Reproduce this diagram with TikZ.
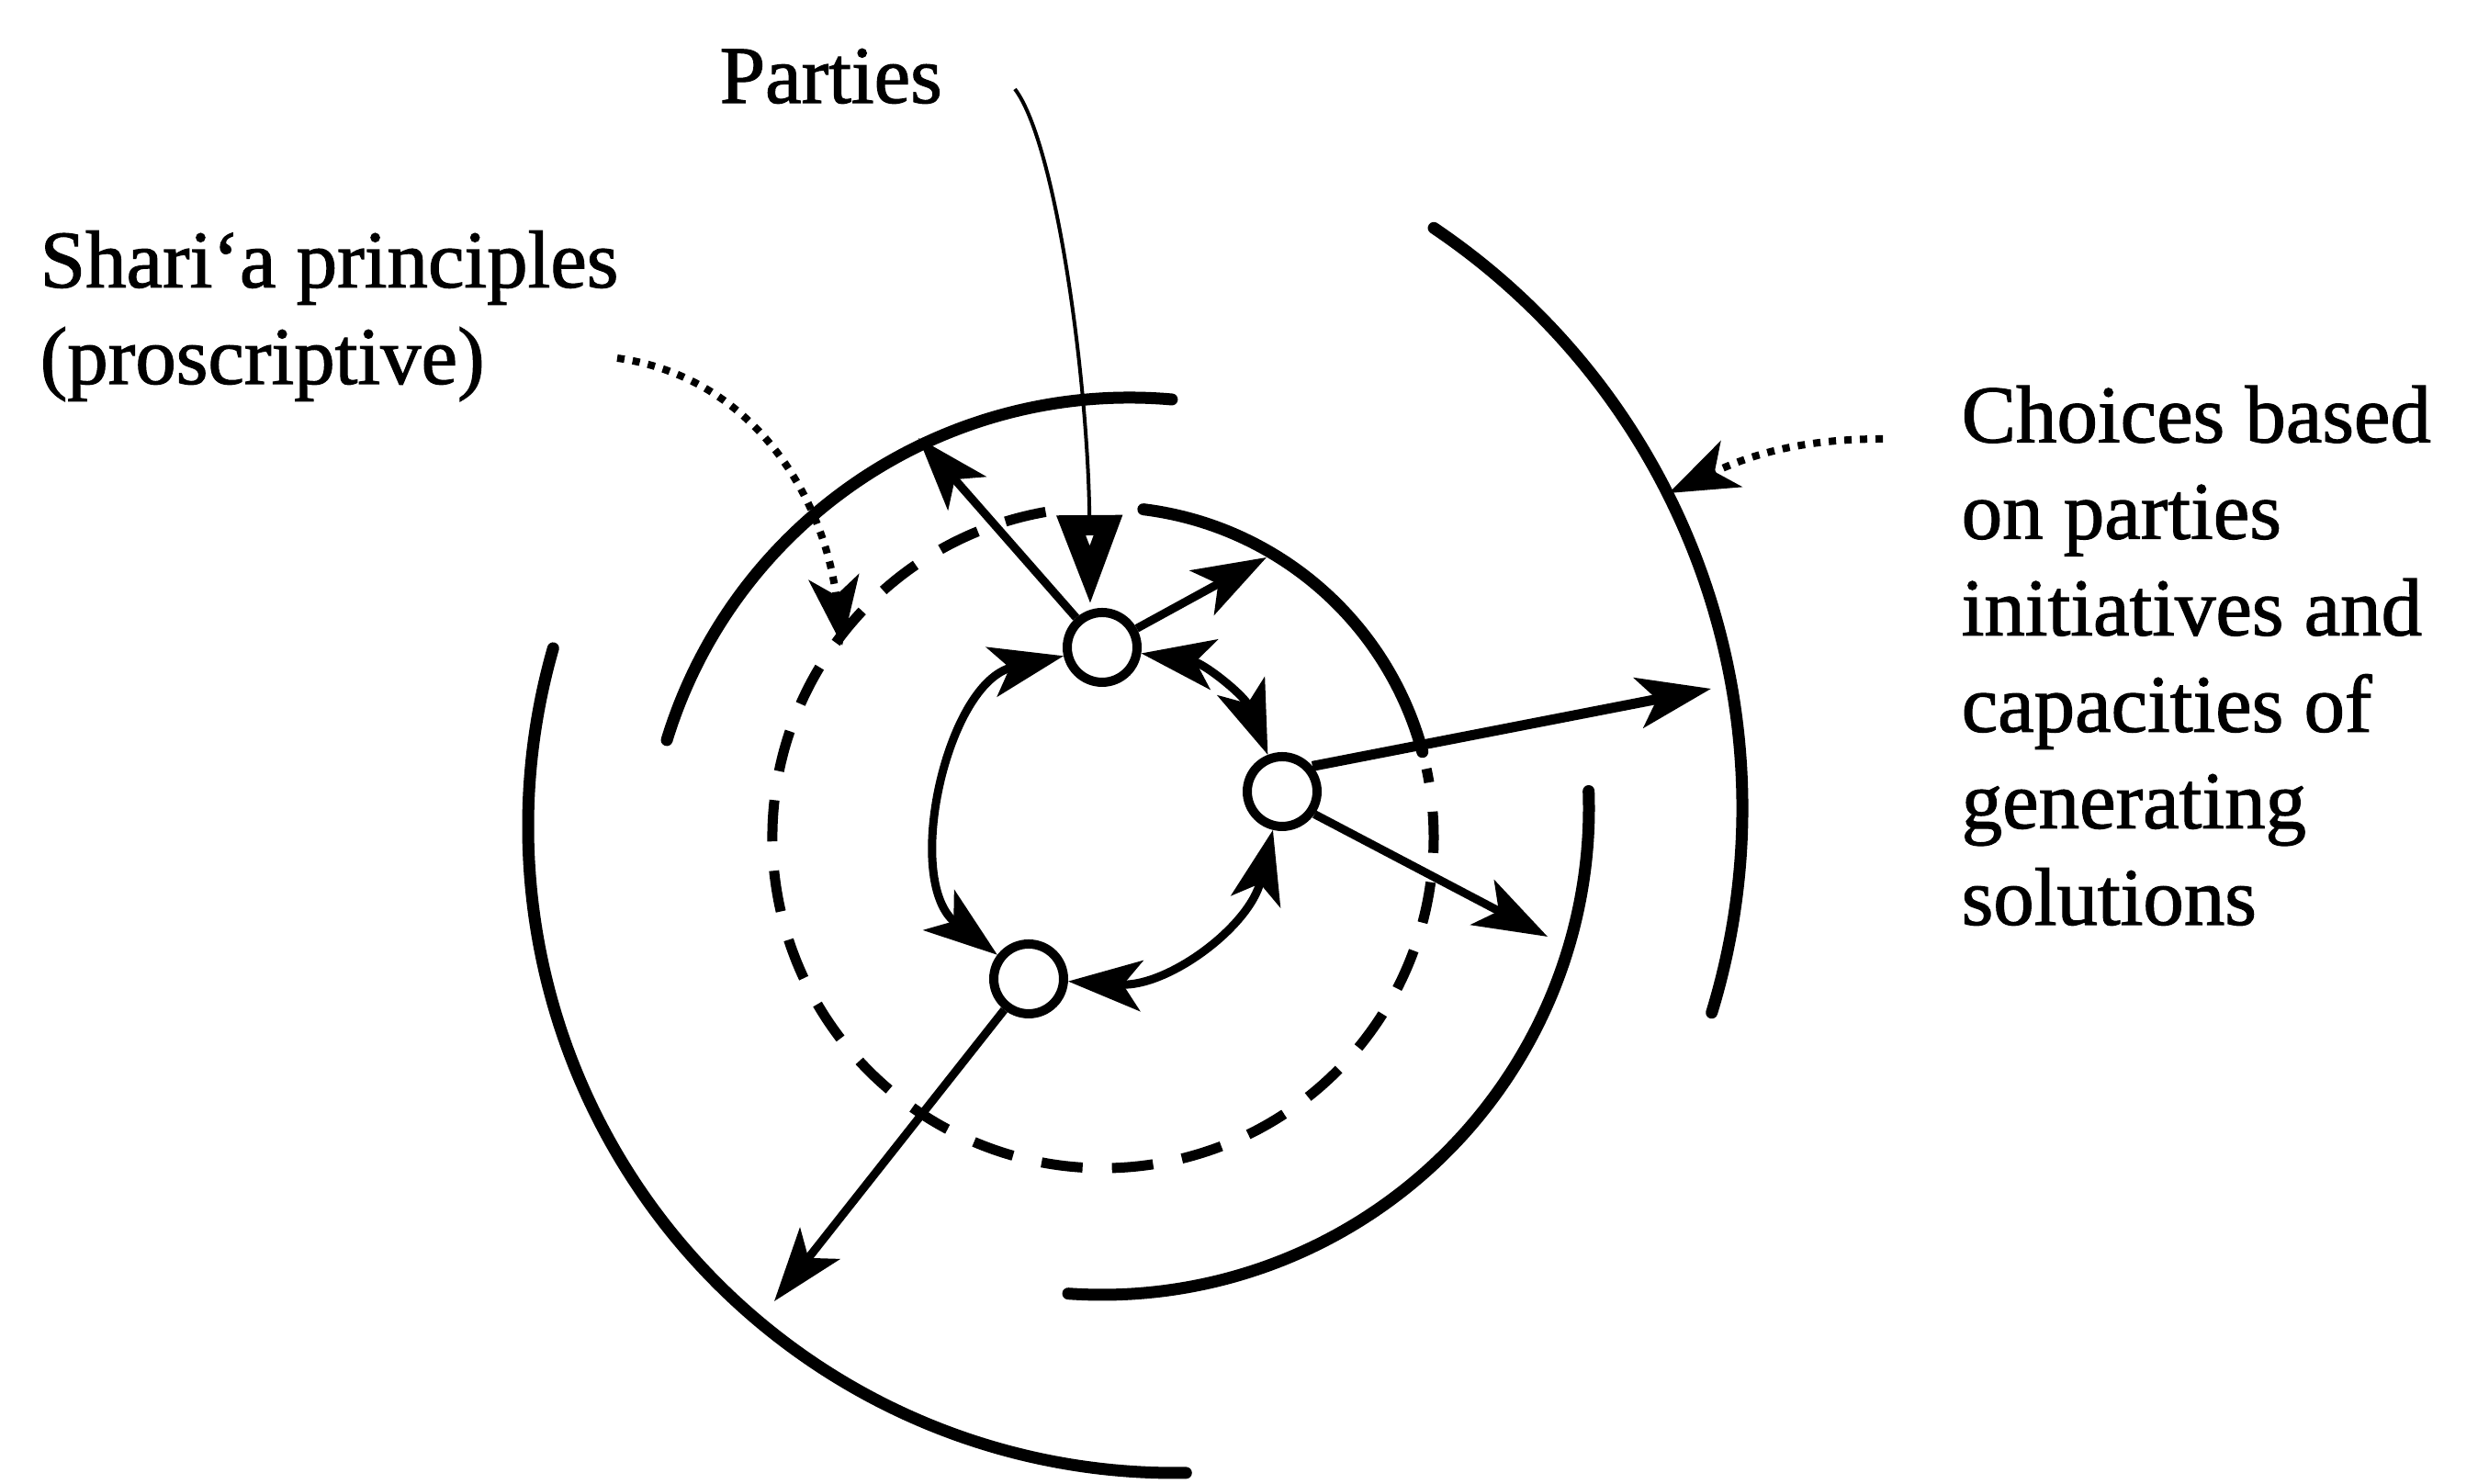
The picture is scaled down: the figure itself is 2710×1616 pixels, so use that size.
\documentclass[tikz,border=0pt]{standalone}
\usepackage{fontspec}
\setmainfont{Liberation Serif}[UprightFeatures={FakeBold=1.3}]
\usetikzlibrary{arrows.meta,positioning,calc}

\tikzset{
  party/.style={circle, draw, line width=1mm, fill=white, minimum size=7.6mm, inner sep=0pt},
  caption/.style={font=\fontsize{25.3pt}{29.9pt}\selectfont, inner sep=0pt, anchor=base west, align=left},
  ring/.style={line width=1.3mm, line cap=round},
  shari/.style={line width=1.1mm, dash pattern=on 4.5mm off 3.2mm},
  reach/.style={line width=0.9mm, -{Stealth[length=8mm,width=5.5mm,inset=2mm]}},
  mutual/.style={line width=0.9mm, {Stealth[length=8mm,width=5.5mm,inset=2mm]}-{Stealth[length=8mm,width=5.5mm,inset=2mm]}},
  cue/.style={line width=0.8mm, dash pattern=on 0.8mm off 0.9mm, -{Stealth[length=7.5mm,width=5.5mm,inset=2mm]}}
}

\begin{document}
\begin{tikzpicture}[x=0.1mm, y=0.1mm]
  \useasboundingbox (0,0) rectangle (2710,1616);

  % rings
  \draw[ring] (1135,736) ++(56:762) arc[start angle=56, end angle=-17, radius=762];
  \draw[ring] (1279,716) ++(164:704) arc[start angle=164, end angle=271, radius=704];
  \draw[ring] (1230,656) ++(163:527) arc[start angle=163, end angle=85, radius=527];
  \draw[ring] (1200,736) ++(2:530) arc[start angle=2, end angle=-94, radius=530];
  \draw[shari] (1201,704) ++(100:360) arc[start angle=100, end angle=372, radius=360];
  \draw[ring] (1201,704) ++(15:360) arc[start angle=15, end angle=83, radius=360];

  % labels
  \node[caption] (parties) at (783,1504) {Parties};
  \node[caption] (sharia) at (43,1198) {Shari`a principles\\(proscriptive)};
  \node[caption] (choices) at (2135,609) {Choices based\\on parties\\initiatives and\\capacities of\\generating\\solutions};

  % parties
  \node[party] (pa) at (1200,911) {};
  \node[party] (pb) at (1396,754) {};
  \node[party] (pc) at (1120,550) {};

  \coordinate (ta) at (1000,1139);
  \coordinate (tb) at (1379,1009);
  \coordinate (tc) at (1863,866);
  \coordinate (td) at (1685,596);
  \coordinate (te) at (843,199);

  \draw[reach] (pa) -- (ta);
  \draw[reach] (pa) -- (tb);
  \draw[reach, line width=1.1mm] (pb.40) -- (tc);
  \draw[reach] (pb.-35) -- (td);
  \draw[reach] (pc) -- (te);

  \draw[mutual] (pa) to[bend left=30] (pb);
  \draw[mutual] (pb) to[bend left=40] (pc);
  \draw[mutual] (pc) to[bend left=65] (pa);

  % cues
  \coordinate (sharia-tail) at (672,1226);
  \coordinate (sharia-tip) at (917,913);
  \draw[cue] (sharia-tail) to[out=-8, in=97] (sharia-tip);

  \coordinate (choices-tail) at (2050,1138);
  \coordinate (choices-tip) at (1817,1079);
  \draw[cue] (choices-tail) to[out=180, in=25] (choices-tip);

  \coordinate (parties-tail) at (1105,1519);
  \coordinate (parties-tip) at (1187,955);
  \draw[line width=0.4mm, -{Triangle[length=10mm, width=6.5mm, fill=white, line width=2.2mm]}]
    (parties-tail) .. controls (1150,1460) and (1185,1200) .. (parties-tip);
\end{tikzpicture}
\end{document}
